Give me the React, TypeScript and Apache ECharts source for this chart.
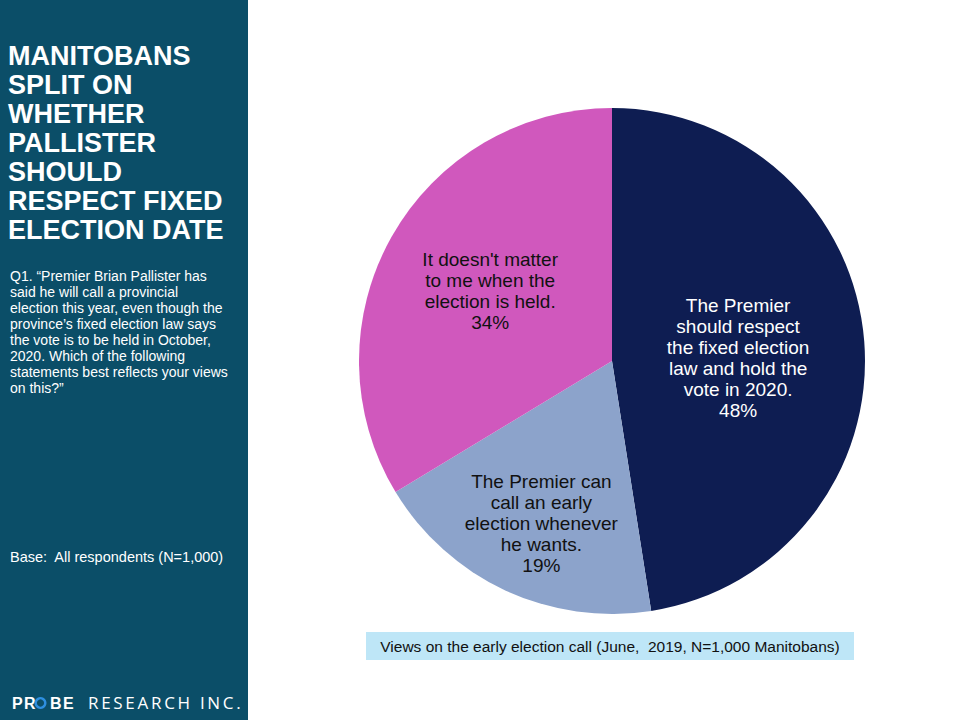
import React, { useEffect, useRef } from "react";
import * as echarts from "echarts";

const categories = [
  "The Premier\nshould respect\nthe fixed election\nlaw and hold the\nvote in 2020.",
  "The Premier can\ncall an early\nelection whenever\nhe wants.",
  "It doesn't matter\nto me when the\nelection is held.",
];
const values = [48, 19, 34];
const sliceColors = ["#0E1D52", "#8CA3CB", "#D058BD"];
const labelColors = ["#FFFFFF", "#111111", "#111111"];
const labelShift = [
  [-3, 7],
  [-16, 45],
  [-9, -6],
];

const titleText = "MANITOBANS\nSPLIT ON\nWHETHER\nPALLISTER\nSHOULD\nRESPECT FIXED\nELECTION DATE";
const questionText =
  "Q1. \u201cPremier Brian Pallister has\nsaid he will call a provincial\nelection this year, even though the\nprovince\u2019s fixed election law says\nthe vote is to be held in October,\n2020. Which of the following\nstatements best reflects your views\non this?\u201d";
const baseText = "Base:  All respondents (N=1,000)";
const captionText = "Views on the early election call (June,  2019, N=1,000 Manitobans)";
const logoWord = "RESEARCH INC.";

const FONT = "'Liberation Sans', Arial, sans-serif";

function spacedLetters(text: string, x0: number, y: number, font: string, spacing: number) {
  const ctx = document.createElement("canvas").getContext("2d")!;
  ctx.font = font;
  const out: any[] = [];
  let x = x0;
  for (const ch of text) {
    if (ch !== " ") {
      out.push({ type: "text", x, y, style: { text: ch, fill: "#FFFFFF", font } });
    }
    x += ctx.measureText(ch).width + spacing;
  }
  return out;
}

export default function App() {
  const ref = useRef<HTMLDivElement>(null);
  useEffect(() => {
    if (!ref.current) return;
    const chart = echarts.init(ref.current, null, { renderer: "svg" });
    const logoLetters = [
      { t: "P", x: 12 },
      { t: "R", x: 24 },
      { t: "B", x: 50 },
      { t: "E", x: 63 },
    ];
    chart.setOption({
      animation: false,
      backgroundColor: "#FFFFFF",
      graphic: [
        { type: "rect", shape: { x: 0, y: 0, width: 248, height: 720 }, style: { fill: "#0B4E68" }, z: 0 },
        {
          type: "text",
          x: 8,
          y: 41,
          style: { text: titleText, fill: "#FFFFFF", font: `bold 27px ${FONT}`, lineHeight: 29 },
        },
        {
          type: "text",
          x: 10,
          y: 268,
          style: { text: questionText, fill: "#FFFFFF", font: `14px ${FONT}`, lineHeight: 16 },
        },
        {
          type: "text",
          x: 10,
          y: 549,
          style: { text: baseText, fill: "#FFFFFF", font: `14.5px ${FONT}` },
        },
        ...logoLetters.map((l) => ({
          type: "text",
          x: l.x,
          y: 695,
          style: { text: l.t, fill: "#FFFFFF", font: `bold 16px ${FONT}` },
        })),
        {
          type: "ring",
          shape: { cx: 40.5, cy: 703, r: 6, r0: 3.6 },
          style: { fill: "#2E8FE0" },
        },
        ...spacedLetters(logoWord, 88, 694, "17px 'Open Sans', sans-serif", 2.7),
        { type: "rect", shape: { x: 366, y: 632, width: 488, height: 28 }, style: { fill: "#BEE6F7" } },
        {
          type: "text",
          x: 610,
          y: 646,
          style: {
            text: captionText,
            fill: "#111111",
            font: `15.5px ${FONT}`,
            align: "center",
            verticalAlign: "middle",
          },
        },
      ],
      series: [
        {
          type: "pie",
          center: [612, 361],
          radius: 253,
          startAngle: 90,
          clockwise: true,
          data: categories.map((name, i) => ({
            name,
            value: values[i],
            itemStyle: { color: sliceColors[i] },
            label: { color: labelColors[i] },
          })),
          itemStyle: { borderWidth: 0 },
          label: {
            show: true,
            position: "inside",
            formatter: (p: any) => `${p.name}\n${p.value}%`,
            fontFamily: FONT,
            fontSize: 19,
            lineHeight: 21,
            align: "center",
          },
          labelLayout: (p: any) => ({ dx: labelShift[p.dataIndex][0], dy: labelShift[p.dataIndex][1] }),
          emphasis: { disabled: true },
        },
      ],
    });
    return () => chart.dispose();
  }, []);
  return (
    <div
      ref={ref}
      style={{ position: "fixed", left: 0, top: 0, width: 960, height: 720 }}
    />
  );
}
